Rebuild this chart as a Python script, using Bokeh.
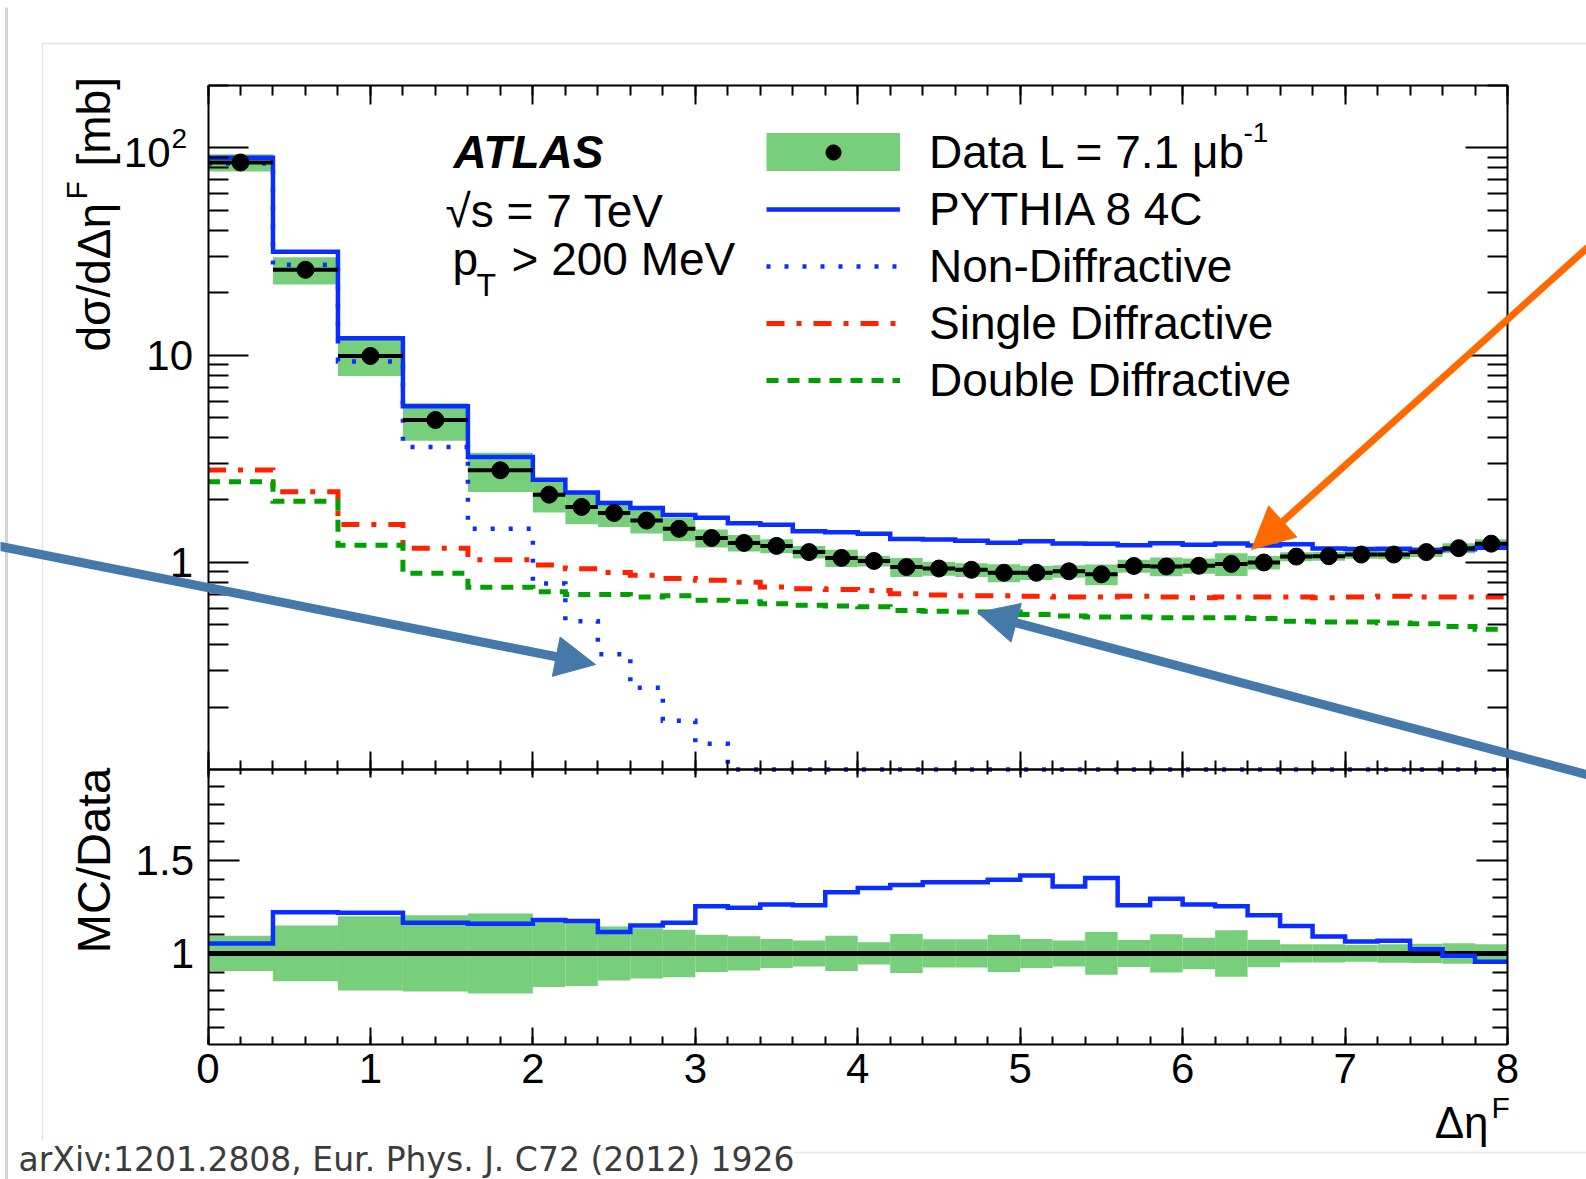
import math
from bokeh.plotting import figure
from bokeh.models import (Range1d, LinearAxis, LogAxis, FixedTicker, SingleIntervalTicker,
                          CustomJSTickFormatter, Label, Arrow, NormalHead, Legend, LegendItem,
                          LogScale, LinearScale)
from bokeh.embed import file_html
from bokeh.resources import INLINE

# ---------------- data ----------------
bin_edges = [0.0, 0.4, 0.8, 1.2, 1.6, 2.0, 2.2, 2.4, 2.6, 2.8, 3.0, 3.2, 3.4, 3.6, 3.8,
             4.0, 4.2, 4.4, 4.6, 4.8, 5.0, 5.2, 5.4, 5.6, 5.8, 6.0, 6.2, 6.4, 6.6, 6.8,
             7.0, 7.2, 7.4, 7.6, 7.8, 8.0]
data_xsec = [85.0, 25.8, 9.9, 4.86, 2.78, 2.12, 1.85, 1.73, 1.59, 1.45, 1.31, 1.24, 1.20,
             1.12, 1.05, 1.015, 0.948, 0.933, 0.92, 0.89, 0.89, 0.905, 0.875, 0.96, 0.955,
             0.962, 0.982, 0.998, 1.065, 1.07, 1.09, 1.09, 1.12, 1.17, 1.23]
data_rel_unc = [0.095, 0.15, 0.20, 0.205, 0.215, 0.18, 0.175, 0.145, 0.135, 0.128, 0.10,
                0.092, 0.078, 0.07, 0.095, 0.06, 0.105, 0.076, 0.076, 0.10, 0.078, 0.07,
                0.115, 0.073, 0.103, 0.085, 0.125, 0.074, 0.049, 0.049, 0.045, 0.05, 0.052,
                0.055, 0.05]
pythia_total = [89.5, 31.5, 12.07, 5.66, 3.22, 2.50, 2.17, 1.93, 1.83, 1.69, 1.64, 1.545,
                1.516, 1.41, 1.397, 1.372, 1.297, 1.29, 1.272, 1.243, 1.264, 1.232, 1.23,
                1.21, 1.236, 1.215, 1.231, 1.204, 1.223, 1.167, 1.16, 1.164, 1.146, 1.156,
                1.176]
non_diffractive = [84.0, 27.3, 9.3, 3.6, 1.45, 0.79, 0.52, 0.36, 0.248, 0.172, 0.133, 0.1,
                   0.1, 0.1, 0.1, 0.1, 0.1, 0.1, 0.1, 0.1, 0.1, 0.1, 0.1, 0.1, 0.1, 0.1,
                   0.1, 0.1, 0.1, 0.1, 0.1, 0.1, 0.1, 0.1, 0.1]
single_diffractive = [2.79, 2.19, 1.52, 1.17, 1.03, 0.97, 0.93, 0.894, 0.865, 0.836, 0.82,
                      0.80, 0.76, 0.745, 0.74, 0.73, 0.705, 0.695, 0.69, 0.69, 0.685, 0.68,
                      0.68, 0.685, 0.68, 0.675, 0.68, 0.68, 0.68, 0.675, 0.68, 0.685, 0.68,
                      0.68, 0.68]
double_diffractive = [2.45, 1.97, 1.21, 0.885, 0.757, 0.72, 0.70, 0.70, 0.68, 0.69, 0.655,
                      0.645, 0.63, 0.62, 0.615, 0.61, 0.585, 0.58, 0.575, 0.575, 0.56, 0.55,
                      0.545, 0.545, 0.54, 0.54, 0.54, 0.535, 0.52, 0.515, 0.515, 0.51, 0.505,
                      0.49, 0.475]
mc_over_data = [1.053, 1.222, 1.219, 1.165, 1.16, 1.18, 1.174, 1.116, 1.151, 1.165, 1.254,
                1.246, 1.263, 1.26, 1.33, 1.352, 1.368, 1.383, 1.383, 1.397, 1.42, 1.361,
                1.406, 1.26, 1.294, 1.263, 1.254, 1.206, 1.148, 1.091, 1.064, 1.068, 1.023,
                0.988, 0.956]

legend_labels = ["Data L = 7.1 \u03bcb", "PYTHIA 8 4C", "Non-Diffractive",
                 "Single Diffractive", "Double Diffractive"]
top_y_major = [1, 10, 100]
top_y_labels = {1: "1", 10: "10", 100: ""}   # 10^2 is written with a raised exponent below
top_y_minor = [0.2, 0.3, 0.4, 0.5, 0.6, 0.7, 0.8, 0.9, 2, 3, 4, 5, 6, 7, 8, 9,
               20, 30, 40, 50, 60, 70, 80, 90, 200]
ratio_y_major = [1.0, 1.5]
ratio_y_labels = {1.0: "1", 1.5: "1.5"}
ratio_y_minor = [0.6, 0.7, 0.8, 0.9, 1.1, 1.2, 1.3, 1.4, 1.6, 1.7, 1.8, 1.9]
PLOT_X = (0.0, 8.0)
TOP_RANGE = (0.1, 200.0)
RATIO_RANGE = (0.51, 1.99)

# ---------------- styles / geometry (page pixels) ----------------
FONT = "Liberation Sans"
BLUE = "#0a2eff"
RED = "#ff2200"
DGREEN = "#00a000"
BAND = "#78cf7b"
ARROW_BLUE = "#4479aa"
ARROW_ORANGE = "#ff6a00"
PANEL_LINE = "#e4e4e4"

W, H = 1586, 1179
X0_PX, X1_PX = 207.5, 1507.0
TOP_PX = (85.0, 769.0)
RAT_PX = (769.0, 1044.0)


def px_to_x(px):
    return PLOT_X[0] + (px - X0_PX) * (PLOT_X[1] - PLOT_X[0]) / (X1_PX - X0_PX)


lt0, lt1 = math.log10(TOP_RANGE[0]), math.log10(TOP_RANGE[1])
k_top = (lt1 - lt0) / (TOP_PX[1] - TOP_PX[0])
k_rat = (RATIO_RANGE[1] - RATIO_RANGE[0]) / (RAT_PX[1] - RAT_PX[0])
top_full = Range1d(start=10 ** (lt0 - (H - TOP_PX[1]) * k_top), end=10 ** (lt1 + TOP_PX[0] * k_top))
ratio_full = Range1d(start=RATIO_RANGE[0] - (H - RAT_PX[1]) * k_rat,
                     end=RATIO_RANGE[1] + RAT_PX[0] * k_rat)

left = bin_edges[:-1]
right = bin_edges[1:]
centers = [(a + b) / 2 for a, b in zip(left, right)]


def steps(vals):
    xs, ys = [], []
    for a, b, v in zip(left, right, vals):
        xs += [a, b]
        ys += [v, v]
    return xs, ys


p = figure(width=W, height=H, x_range=Range1d(px_to_x(0), px_to_x(W)), y_range=Range1d(H, 0),
           x_axis_location=None, y_axis_location=None, output_backend="svg",
           toolbar_location=None, min_border=0)
p.min_border_left = p.min_border_right = p.min_border_top = p.min_border_bottom = 0
p.extra_y_ranges = {"top": top_full, "ratio": ratio_full}
p.extra_y_scales = {"top": LogScale(), "ratio": LinearScale()}
p.grid.visible = False
p.outline_line_color = None
p.background_fill_color = "white"
p.border_fill_color = "white"


def style_axis(ax, tick_in, minor_in, labels=True, size="42px", standoff=14):
    ax.axis_line_color = "black"
    ax.axis_line_width = 2
    ax.major_tick_line_color = "black"
    ax.major_tick_line_width = 2
    ax.minor_tick_line_color = "black"
    ax.minor_tick_line_width = 2
    ax.major_tick_in = tick_in
    ax.major_tick_out = 0
    ax.minor_tick_in = minor_in
    ax.minor_tick_out = 0
    if labels:
        ax.major_label_text_font = FONT
        ax.major_label_text_font_size = size
        ax.major_label_text_color = "black"
        ax.major_label_standoff = standoff
    else:
        ax.formatter = CustomJSTickFormatter(code="return ''")
        ax.major_label_text_font_size = "0px"
        ax.major_label_standoff = 0


def x_axis(place, rng, loc, tick_in, minor_in, labels=False, standoff=0):
    ax = LinearAxis(y_range_name=rng, fixed_location=loc, bounds=PLOT_X,
                    ticker=SingleIntervalTicker(interval=1, num_minor_ticks=5))
    style_axis(ax, tick_in, minor_in, labels=labels, standoff=standoff)
    p.add_layout(ax, place)


# frame axes of the two panels
x_axis("above", "top", TOP_RANGE[1], 19, 10)
x_axis("below", "top", TOP_RANGE[0], 18, 9)
x_axis("above", "ratio", RATIO_RANGE[1], 8, 5)
x_axis("below", "ratio", RATIO_RANGE[0], 17, 8, labels=True, standoff=9)

ax = LogAxis(y_range_name="top", fixed_location=PLOT_X[0], bounds=TOP_RANGE,
             ticker=FixedTicker(ticks=top_y_major, minor_ticks=top_y_minor),
             major_label_overrides=top_y_labels)
style_axis(ax, 40, 20, labels=True, standoff=15)
p.add_layout(ax, "left")
ax = LogAxis(y_range_name="top", fixed_location=PLOT_X[1], bounds=TOP_RANGE,
             ticker=FixedTicker(ticks=top_y_major, minor_ticks=top_y_minor))
style_axis(ax, 42, 20, labels=False)
p.add_layout(ax, "right")
ax = LinearAxis(y_range_name="ratio", fixed_location=PLOT_X[0], bounds=RATIO_RANGE,
                ticker=FixedTicker(ticks=ratio_y_major, minor_ticks=ratio_y_minor),
                major_label_overrides=ratio_y_labels)
style_axis(ax, 31, 16, labels=True, standoff=14)
p.add_layout(ax, "left")
ax = LinearAxis(y_range_name="ratio", fixed_location=PLOT_X[1], bounds=RATIO_RANGE,
                ticker=FixedTicker(ticks=ratio_y_major, minor_ticks=ratio_y_minor))
style_axis(ax, 31, 15, labels=False)
p.add_layout(ax, "right")

# ---------------- top panel marks ----------------
band = p.quad(left=left, right=right,
              bottom=[d * (1 - u) for d, u in zip(data_xsec, data_rel_unc)],
              top=[d * (1 + u) for d, u in zip(data_xsec, data_rel_unc)],
              fill_color=BAND, line_color=None, y_range_name="top")
sx, sy = steps(single_diffractive)
sd = p.line(sx, sy, line_color=RED, line_width=5, line_dash="18 12 5 12",
            line_join="miter", y_range_name="top")
sx, sy = steps(double_diffractive)
dd = p.line(sx, sy, line_color=DGREEN, line_width=5, line_dash="12 9",
            line_join="miter", y_range_name="top")
sx, sy = steps(non_diffractive)
nd = p.line(sx, sy, line_color=BLUE, line_width=4.5, line_dash="4 14",
            line_join="miter", y_range_name="top")
sx, sy = steps(pythia_total)
mc = p.line(sx, sy, line_color=BLUE, line_width=4.5, line_join="miter", y_range_name="top")
p.segment(x0=left, x1=right, y0=data_xsec, y1=data_xsec, line_color="black", line_width=4,
          y_range_name="top")
pts = p.scatter(centers, data_xsec, size=17, color="black", y_range_name="top")
band_proxy = p.line([math.nan], [math.nan], line_color=BAND, line_width=46, line_cap="butt",
                    y_range_name="top")

legend = Legend(items=[LegendItem(label=legend_labels[0], renderers=[band_proxy, pts]),
                       LegendItem(label=legend_labels[1], renderers=[mc]),
                       LegendItem(label=legend_labels[2], renderers=[nd]),
                       LegendItem(label=legend_labels[3], renderers=[sd]),
                       LegendItem(label=legend_labels[4], renderers=[dd])],
                location=(766, H - 408.5),
                glyph_width=134, glyph_height=38, label_height=57, label_standoff=29,
                spacing=0, padding=0, margin=0, border_line_color=None,
                background_fill_alpha=0, label_text_font=FONT, label_text_font_size="46px",
                label_text_color="black")
p.add_layout(legend)

# ---------------- ratio panel marks ----------------
p.quad(left=left, right=right,
       bottom=[1 - u for u in data_rel_unc], top=[1 + u for u in data_rel_unc],
       fill_color=BAND, line_color=None, y_range_name="ratio")
p.line(x=list(PLOT_X), y=[1.0, 1.0], line_color="black", line_width=5, y_range_name="ratio")
sx, sy = steps(mc_over_data)
p.line(sx, sy, line_color=BLUE, line_width=4.5, line_join="miter", y_range_name="ratio")


# ---------------- page frame lines and arrows ----------------
def add_rule(x0, y0, x1, y1, color, width):
    p.add_layout(Arrow(end=None, x_start=px_to_x(x0), y_start=y0, x_end=px_to_x(x1), y_end=y1,
                       line_color=color, line_width=width))


def add_arrow(x0, y0, x1, y1, color, width, head):
    p.add_layout(Arrow(end=NormalHead(size=head, fill_color=color, line_color=color, line_width=1),
                       x_start=px_to_x(x0), y_start=y0, x_end=px_to_x(x1), y_end=y1,
                       line_color=color, line_width=width))


add_rule(6, 7, 6, H, "#d4d4d4", 3)
add_rule(42, 43, 42, 1152, PANEL_LINE, 1.5)
add_rule(42, 43, W + 10, 43, PANEL_LINE, 1.5)
add_rule(42, 1152, W + 10, 1152, PANEL_LINE, 1.5)


# ---------------- texts (page pixel positions) ----------------
def add_text(text, px, py, size, align="left", angle=0.0, style="normal", font=FONT,
             color="black", bg=None):
    p.add_layout(Label(x=px_to_x(px), y=py, text=text, text_font=font,
                       text_font_size=f"{size}px", text_font_style=style,
                       text_align=align, text_baseline="middle", angle=angle,
                       text_color=color, background_fill_color=bg))


add_text("10", 170, 152, 42, align="right")
add_text("2", 171, 138, 28)
add_text("-1", 1243, 132, 28)
add_text("ATLAS", 453, 151, 46, style="bold italic")
add_text("\u221as = 7 TeV", 445, 210, 46)
add_text("p", 452, 258, 46)
add_text("T", 476, 284, 32)
add_text("> 200 MeV", 511, 258, 46)

add_text("d\u03c3/d\u0394\u03b7", 93, 351, 46, angle=math.pi / 2)
add_text("F", 76, 199, 30, angle=math.pi / 2)
add_text("[mb]", 93, 166, 46, angle=math.pi / 2)
add_text("MC/Data", 93, 860, 47, align="center", angle=math.pi / 2)
add_text("\u0394\u03b7", 1488, 1122, 44, align="right")
add_text("F", 1491, 1107, 30)
add_text("arXiv:1201.2808, Eur. Phys. J. C72 (2012) 1926", 18, 1159, 33,
         font="DejaVu Sans", color="#3c3c3c", bg="white")

add_arrow(1600, 235.4, 1251, 549, ARROW_ORANGE, 7, 42)
add_arrow(-10, 544, 595, 664, ARROW_BLUE, 9, 40)
add_arrow(1600, 777.7, 977, 612, ARROW_BLUE, 9, 40)

open("out.html", "w").write(file_html(p, INLINE))
